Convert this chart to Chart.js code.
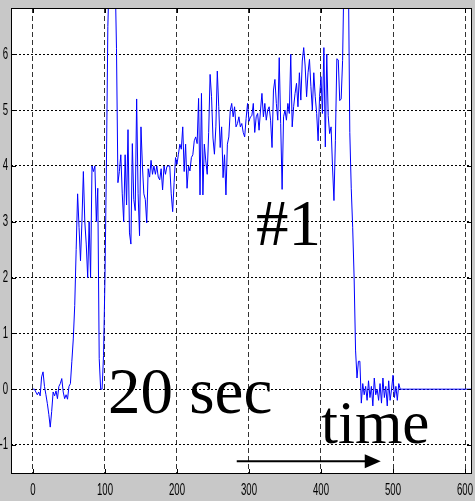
<!DOCTYPE html>
<html>
<head>
<meta charset="utf-8">
<script src="https://cdn.jsdelivr.net/npm/chart.js@4.4.1/dist/chart.umd.min.js"></script>
<style>
  html, body { margin:0; padding:0; background:#c8c8c8; }
  #wrap { position:relative; width:475px; height:501px; overflow:hidden; }
  #wrap canvas { position:absolute; left:0; top:0; }
  .note { position:absolute; font-family:'Liberation Serif','Times New Roman',serif; color:#000; line-height:1; white-space:nowrap; }
</style>
</head>
<body>
<div id="wrap">
  <canvas id="chart" width="475" height="501"></canvas>
  <div class="note" style="left:256px;top:191px;font-size:65px">#1</div>
  <div class="note" style="left:108px;top:359px;font-size:65px">20 sec</div>
  <div class="note" style="left:321px;top:392px;font-size:61px">time</div>
</div>
<script>
// sampled trace, one value every sampleStep time units from startTime
const startTime = 0, sampleStep = 2;
const signal = [
  // 0 - 98
  0, 0, -0.05, -0.1, -0.05, -0.12, 0.22, 0.31, 0.05, -0.1,
  -0.26, -0.45, -0.68, -0.4, -0.05, -0.12, -0.03, -0.17, 0.05, 0.1,
  0.19, -0.05, -0.17, -0.1, -0.18, 0.05, 0.1, 0.5, 0.9, 1.5,
  2.5, 3.5, 2.9, 2.3, 3.0, 3.9, 3.0, 2.6, 2.0, 3.0,
  2.0, 4.0, 3.9, 4.0, 3.0, 3.6, 0.55, 0, 0, 0.6,
  // 100 - 198
  2.0, 4.0, 6.5, 7.5, 7.5, 7.5, 7.5, 7.5, 6.1, 3.7,
  3.9, 4.2, 3.5, 3.0, 4.2, 3.3, 4.65, 2.8, 2.6, 4.4,
  3.4, 3.2, 5.2, 3.5, 2.75, 4.7, 4.0, 3.5, 3.4, 2.98,
  3.95, 3.8, 4.1, 3.85, 4.0, 3.85, 4.0, 3.8, 3.75, 3.95,
  3.57, 4.0, 3.85, 3.99, 4.0, 4.0, 3.5, 3.18, 3.7, 4.15,
  // 200 - 298
  4.03, 4.21, 4.39, 4.3, 4.7, 3.9, 4.39, 3.6, 4.0, 3.91,
  4.15, 4.2, 4.45, 4.52, 4.4, 5.21, 3.48, 5.3, 3.48, 4.39,
  4.09, 3.85, 4.6, 5.64, 5.24, 4.5, 4.21, 4.7, 5.7, 5.06,
  4.33, 4.7, 3.79, 4.2, 3.48, 4.39, 4.52, 5.0, 5.12, 4.88,
  5.06, 4.7, 4.76, 4.88, 4.7, 4.76, 4.6, 4.52, 4.85, 5.12,
  // 300 - 398
  4.8, 4.88, 4.9, 5.12, 4.6, 4.88, 4.94, 4.64, 5.0, 5.3,
  4.88, 5.12, 4.82, 5.0, 5.06, 4.82, 4.33, 5.36, 5.55, 5.12,
  4.82, 5.94, 4.76, 3.58, 4.88, 5.0, 4.82, 5.12, 4.94, 6.0,
  4.7, 5.06, 5.3, 5.48, 5.06, 5.67, 5.18, 5.88, 6.12, 5.79,
  5.24, 5.67, 5.91, 5.42, 5.0, 5.67, 5.24, 4.94, 4.45, 5.24,
  // 400 - 498
  5.6, 4.94, 6.12, 4.34, 6.0, 4.9, 4.58, 4.7, 3.98, 3.38,
  4.46, 5.92, 5.9, 5.17, 5.2, 5.89, 7.5, 7.5, 7.5, 7.5,
  4.6, 3.6, 2.9, 2.0, 0.7, 0.2, 0.5, 0.5, -0.25, 0.1,
  -0.1, 0.05, -0.2, 0.15, -0.15, 0.05, -0.3, 0.2, -0.1, 0.0,
  -0.2, 0.1, -0.25, 0.2, -0.15, 0.05, -0.3, 0.15, -0.2, 0.0,
  // 500 - 510
  0.25, -0.15, 0.05, -0.2, 0.1, 0
];
const tailTime = 612, tailValue = 0;   // flat line to the right edge

const xTicks = [0, 100, 200, 300, 400, 500, 600];
const yTicks = [-1, 0, 1, 2, 3, 4, 5, 6];
const xRange = [-30.5, 609.7];
const yRange = [-1.52, 6.83];

// arrow under "time", in data units
const arrowFrom = 283, arrowTo = 483, arrowAt = -1.29;

const points = signal.map((v, i) => ({ x: startTime + i * sampleStep, y: v }));
points.push({ x: tailTime, y: tailValue });

// tick labels in the picture are tall and narrow, so squeeze them sideways
const labelFont = '16px "Liberation Sans", Arial, sans-serif';
const squeeze = 0.6;

function squeezedText(ctx, text, x, y, align) {
  ctx.save();
  ctx.translate(x, y);
  ctx.scale(squeeze, 1);
  ctx.textAlign = align;
  ctx.fillText(text, 0, 0);
  ctx.restore();
}

const frame = {
  id: 'frame',
  beforeDraw(c) {
    const { ctx, chartArea: a } = c;
    ctx.save();
    ctx.fillStyle = '#c8c8c8';
    ctx.fillRect(0, 0, c.width, c.height);
    ctx.fillStyle = '#fff';
    ctx.fillRect(a.left, a.top, a.right - a.left, a.bottom - a.top);
    ctx.restore();
  },
  afterDraw(c) {
    const { ctx, chartArea: a, scales } = c;
    ctx.save();
    ctx.strokeStyle = '#000';
    ctx.lineWidth = 1;
    ctx.strokeRect(Math.round(a.left) + 0.5, Math.round(a.top) + 0.5, Math.round(a.right - a.left) - 1, Math.round(a.bottom - a.top) - 1);
    ctx.beginPath();
    yTicks.forEach(v => {
      const y = Math.round(scales.y.getPixelForValue(v)) + 0.5;
      ctx.moveTo(a.left, y); ctx.lineTo(a.left + 5, y);
      ctx.moveTo(a.right - 5, y); ctx.lineTo(a.right, y);
    });
    xTicks.forEach(v => {
      const x = Math.round(scales.x.getPixelForValue(v)) + 0.5;
      ctx.moveTo(x, a.bottom); ctx.lineTo(x, a.bottom - 5);
      ctx.moveTo(x, a.top); ctx.lineTo(x, a.top + 5);
    });
    ctx.stroke();

    ctx.fillStyle = '#000';
    ctx.font = labelFont;
    ctx.textBaseline = 'middle';
    yTicks.forEach(v => squeezedText(ctx, String(v), a.left - 3, scales.y.getPixelForValue(v), 'right'));
    xTicks.forEach(v => squeezedText(ctx, String(v), scales.x.getPixelForValue(v), a.bottom + 17, 'center'));

    // arrow
    const x0 = scales.x.getPixelForValue(arrowFrom), x1 = scales.x.getPixelForValue(arrowTo);
    const y = scales.y.getPixelForValue(arrowAt);
    ctx.lineWidth = 2;
    ctx.beginPath(); ctx.moveTo(x0, y); ctx.lineTo(x1 - 12, y); ctx.stroke();
    ctx.beginPath(); ctx.moveTo(x1, y); ctx.lineTo(x1 - 16, y - 7); ctx.lineTo(x1 - 16, y + 7); ctx.closePath(); ctx.fill();
    ctx.restore();
  }
};

new Chart(document.getElementById('chart'), {
  type: 'line',
  data: { datasets: [{ data: points, borderColor: '#0000ff', borderWidth: 1, pointRadius: 0, tension: 0, fill: false }] },
  options: {
    responsive: false, animation: false, devicePixelRatio: 1,
    layout: { padding: { top: 8, right: 3, left: 0, bottom: 0 } },
    plugins: { legend: { display: false }, tooltip: { enabled: false } },
    scales: {
      x: {
        type: 'linear', min: xRange[0], max: xRange[1],
        afterBuildTicks: s => { s.ticks = xTicks.map(v => ({ value: v })); },
        afterFit: s => { s.height = 27; },
        ticks: { display: false },
        grid: { color: '#333', lineWidth: 1, drawTicks: false },
        border: { display: false, dash: [5, 3] }
      },
      y: {
        type: 'linear', min: yRange[0], max: yRange[1],
        afterBuildTicks: s => { s.ticks = yTicks.map(v => ({ value: v })); },
        afterFit: s => { s.width = 11; },
        ticks: { display: false },
        grid: { color: '#000', lineWidth: 1, drawTicks: false },
        border: { display: false, dash: [2, 2] }
      }
    }
  },
  plugins: [frame]
});
</script>
</body>
</html>
